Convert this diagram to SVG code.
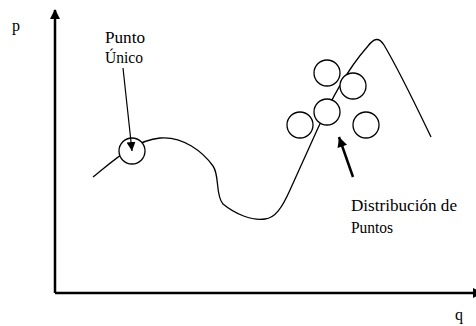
<svg xmlns="http://www.w3.org/2000/svg" width="476" height="326" viewBox="0 0 476 326">
  <style>
    text { font-family: 'Liberation Serif', 'Times New Roman', 'DejaVu Serif', serif; font-size: 16px; fill: #000; }
    .axis { stroke: #000; stroke-width: 2.5; fill: none; }
    .curve { stroke: #000; stroke-width: 1.3; fill: none; }
    .pt { stroke: #000; stroke-width: 1.3; fill: #fff; }
    .thin { stroke: #000; stroke-width: 1.2; fill: none; }
    .bold { stroke: #000; stroke-width: 2.5; fill: none; }
  </style>
  <defs>
    <marker id="axisHead" viewBox="0 0 10 10" refX="9" refY="5" markerUnits="userSpaceOnUse" markerWidth="10" markerHeight="10" orient="auto">
      <path d="M0,0 L10,5 L0,10 Z" fill="#000"/>
    </marker>
    <marker id="thinHead" viewBox="0 0 10 10" refX="10" refY="5" markerUnits="userSpaceOnUse" markerWidth="9" markerHeight="10" orient="auto">
      <path d="M0,0 L10,5 L0,10 Z" fill="#000"/>
    </marker>
    <marker id="boldHead" viewBox="0 0 10 10" refX="10" refY="5" markerUnits="userSpaceOnUse" markerWidth="12" markerHeight="10" orient="auto">
      <path d="M0,0 L10,5 L0,10 Z" fill="#000"/>
    </marker>
  </defs>

  <!-- axes -->
  <g id="axes">
    <line class="axis" x1="55" y1="293" x2="55" y2="10" marker-end="url(#axisHead)"/>
    <line class="axis" x1="55" y1="293" x2="482" y2="293" marker-end="url(#axisHead)"/>
    <text x="12" y="31">p</text>
    <text x="455" y="320">q</text>
  </g>

  <!-- function curve -->
  <g id="curve">
    <path class="curve" d="M93,177 C112,162 135,140 160,138 C183,136 203,152 213,166 C220,176 215,195 223,204 C235,214 252,221 265,219 C275,218 282,208 290,190 L318,128 C330,103 345,72 368,46 C374,38 379,37 384,45 C400,72 418,110 431,137"/>
  </g>

  <!-- sample points -->
  <g id="single-point">
    <circle class="pt" cx="132" cy="151" r="13"/>
  </g>
  <g id="point-cloud">
    <circle class="pt" cx="327" cy="73" r="13"/>
    <circle class="pt" cx="353" cy="86" r="13"/>
    <circle class="pt" cx="327" cy="112" r="13"/>
    <circle class="pt" cx="300" cy="125" r="13"/>
    <circle class="pt" cx="366" cy="125" r="13"/>
  </g>

  <!-- labels -->
  <g id="label-single">
    <text x="105" y="43" textLength="40" lengthAdjust="spacingAndGlyphs">Punto</text>
    <text x="105" y="63" textLength="38" lengthAdjust="spacingAndGlyphs">Único</text>
  </g>
  <g id="label-distribution">
    <text x="351" y="211" textLength="106" lengthAdjust="spacingAndGlyphs">Distribución de</text>
    <text x="351" y="233" textLength="42" lengthAdjust="spacingAndGlyphs">Puntos</text>
  </g>

  <!-- connectors -->
  <g id="connectors">
    <line class="thin" x1="123" y1="68" x2="132" y2="151" marker-end="url(#thinHead)"/>
    <line class="bold" x1="353" y1="177" x2="339" y2="137" marker-end="url(#boldHead)"/>
  </g>
</svg>
